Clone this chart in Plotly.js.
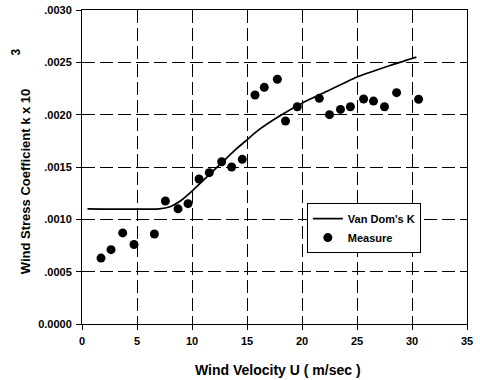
<!DOCTYPE html>
<html>
<head>
<meta charset="utf-8">
<script src="https://cdn.plot.ly/plotly-3.0.1.min.js"></script>
<style>
  html, body { margin: 0; padding: 0; background: #fff; }
  #chart { width: 480px; height: 380px; }
</style>
</head>
<body>
<div id="chart"></div>
<script>
// Measured wind stress coefficient versus wind velocity
const measureU = [1.73, 2.64, 3.7, 4.73, 6.58, 7.58, 8.73, 9.64, 10.64, 11.57, 12.7, 13.6, 14.57,
                  15.73, 16.57, 17.76, 18.5, 19.57, 21.57, 22.5, 23.5, 24.4, 25.6, 26.5, 27.5, 28.6, 30.6];
const measureK = [0.00063, 0.00071, 0.00087, 0.00076, 0.00086, 0.001175, 0.0011, 0.00115, 0.001385, 0.001446,
                  0.00155, 0.0015, 0.001573, 0.002188, 0.002261, 0.002338, 0.00194, 0.002076, 0.002156,
                  0.002, 0.00205, 0.002076, 0.00215, 0.00213, 0.002076, 0.00221, 0.002147];

// Van Dorn's K curve
const vanDornU = [0.5, 7, 8, 9, 10, 11, 12, 13, 14, 15, 16, 18, 20, 22, 25, 28, 30.4];
const vanDornK = [0.0011, 0.0011, 0.00112, 0.00118, 0.00127, 0.00137, 0.00147, 0.00157, 0.00167, 0.00176,
                  0.00185, 0.00199, 0.00211, 0.00221, 0.00236, 0.00247, 0.00255];

// Axis ticks
const xTicks = [0, 5, 10, 15, 20, 25, 30, 35];
const yTicks = [0, 0.0005, 0.001, 0.0015, 0.002, 0.0025, 0.003];
const yTickText = ['0.0000', '.0005', '.0010', '.0015', '.0020', '.0025', '.0030'];

const FONT = 'Liberation Sans, Arial, sans-serif';

const traces = [
  {
    x: vanDornU, y: vanDornK, type: 'scatter', mode: 'lines',
    name: "Van Dom's K",
    line: { color: '#000', width: 1.7, shape: 'spline', smoothing: 0.5 }
  },
  {
    x: measureU, y: measureK, type: 'scatter', mode: 'markers',
    name: 'Measure',
    marker: { color: '#000', size: 9, symbol: 'circle' }
  }
];

const axisCommon = {
  showline: true, linecolor: '#000', linewidth: 1, mirror: true,
  ticks: 'outside', ticklen: 5, tickcolor: '#000', tickwidth: 1,
  showgrid: true, gridcolor: '#000', gridwidth: 1, griddash: '13px,5px',
  zeroline: false,
  tickfont: { family: FONT, size: 11, color: '#000', weight: 'bold' }
};

const layout = {
  width: 480, height: 380,
  margin: { l: 82, r: 13, t: 10, b: 56 },
  paper_bgcolor: '#fff', plot_bgcolor: '#fff',
  showlegend: true,
  legend: {
    x: 0.584, y: 0.385, xanchor: 'left', yanchor: 'top',
    bgcolor: '#fff', bordercolor: '#000', borderwidth: 1,
    font: { family: FONT, size: 11, color: '#000', weight: 'bold' },
    tracegroupgap: 0, itemwidth: 30
  },
  xaxis: Object.assign({}, axisCommon, {
    range: [0, 35], tickvals: xTicks, ticklabelstandoff: 2
  }),
  yaxis: Object.assign({}, axisCommon, {
    range: [0, 0.003], tickvals: yTicks, ticktext: yTickText, ticklabelstandoff: 2
  }),
  annotations: [
    {
      text: 'Wind Velocity U ( m/sec )', xref: 'paper', yref: 'paper',
      x: 0.509, y: -0.146, xanchor: 'center', yanchor: 'middle', showarrow: false,
      font: { family: FONT, size: 14, color: '#000', weight: 'bold' }
    },
    {
      text: 'Wind Stress Coefficient k x 10', xref: 'paper', yref: 'paper',
      x: -0.146, y: 0.454, xanchor: 'center', yanchor: 'middle', showarrow: false,
      textangle: -90,
      font: { family: FONT, size: 13, color: '#000', weight: 'bold' }
    },
    {
      text: '3', xref: 'paper', yref: 'paper',
      x: -0.171, y: 0.865, xanchor: 'center', yanchor: 'middle', showarrow: false,
      textangle: -90,
      font: { family: FONT, size: 12, color: '#000', weight: 'bold' }
    }
  ]
};

Plotly.newPlot('chart', traces, layout, { displayModeBar: false, staticPlot: true });
</script>
</body>
</html>
